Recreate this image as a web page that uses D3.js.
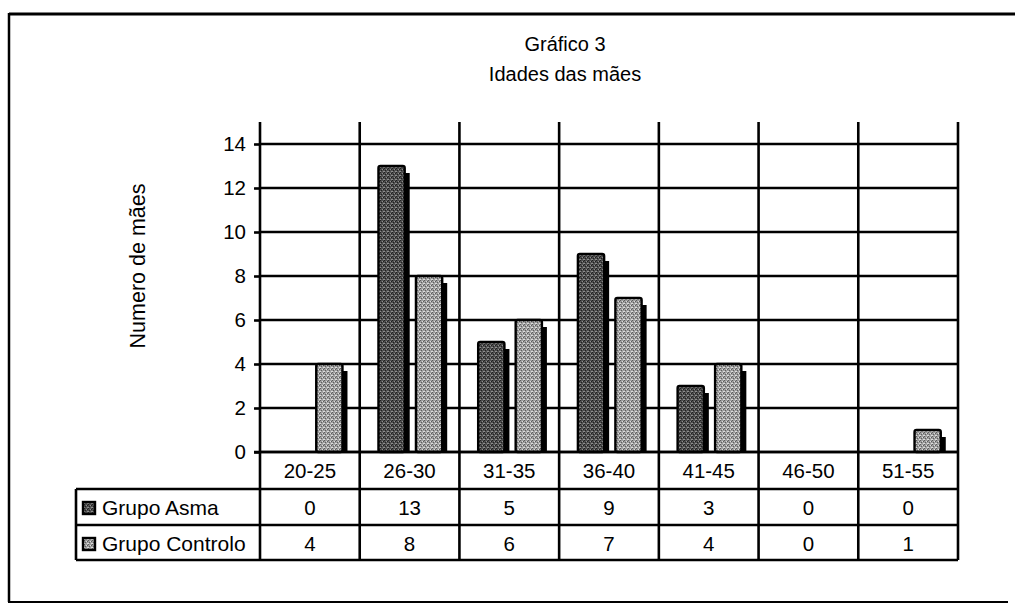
<!DOCTYPE html>
<html>
<head>
<meta charset="utf-8">
<script src="https://cdn.jsdelivr.net/npm/d3@7"></script>
<style>
  html, body { margin: 0; padding: 0; background: #fff; }
  svg text { font-family: "Liberation Sans", Arial, sans-serif; fill: #000; }
</style>
</head>
<body>
<svg id="chart" width="1015" height="607"></svg>
<script>
// ---- data ----
const categories = ["20-25", "26-30", "31-35", "36-40", "41-45", "46-50", "51-55"];
const seriesNames = ["Grupo Asma", "Grupo Controlo"];
const asmaValues = [0, 13, 5, 9, 3, 0, 0];
const controloValues = [4, 8, 6, 7, 4, 0, 1];
const yTicks = [0, 2, 4, 6, 8, 10, 12, 14];
const titleLines = ["Gráfico 3", "Idades das mães"];
const yLabel = "Numero de mães";

const seriesValues = [asmaValues, controloValues];

const svg = d3.select("#chart");
const W = 1015, H = 607;

// patterns (stipple texture)
const defs = svg.append("defs");
function stipple(id, base, dark, light) {
  const p = defs.append("pattern").attr("id", id).attr("patternUnits", "userSpaceOnUse")
    .attr("width", 4).attr("height", 4);
  p.append("rect").attr("width", 4).attr("height", 4).attr("fill", base);
  [[0,0,dark],[2,1,light],[1,2,dark],[3,3,light],[3,1,dark],[0,3,light]].forEach(d => {
    p.append("rect").attr("x", d[0]).attr("y", d[1]).attr("width", 1).attr("height", 1).attr("fill", d[2]);
  });
}
stipple("pAsma", "#4e4e4e", "#202020", "#8e8e8e");
stipple("pCtrl", "#9e9e9e", "#5e5e5e", "#dcdcdc");
const fills = ["url(#pAsma)", "url(#pCtrl)"];

// layout
const plotLeft = 260, plotRight = 958, plotTop = 122, plotBottom = 452;
const rowH = 36;
const tableLeft = 76;
const catRowBottom = plotBottom + 37;
const row1Bottom = catRowBottom + rowH;
const row2Bottom = row1Bottom + rowH - 1;

const x = d3.scaleBand().domain(categories).range([plotLeft, plotRight]).padding(0);
const bw = x.bandwidth();
const xSub = d3.scaleBand().domain(seriesNames).range([bw * 0.188, bw * 0.94]).padding(0);
const barW = xSub.bandwidth() * 0.7;
const y = d3.scaleLinear().domain([0, 15]).range([plotBottom, plotTop]);

const lw = 2.6;

// outer frame
svg.append("line").attr("x1", 9).attr("x2", W).attr("y1", 14).attr("y2", 14).attr("stroke", "#000").attr("stroke-width", 3);
svg.append("line").attr("x1", 9).attr("x2", 9).attr("y1", 13).attr("y2", 602).attr("stroke", "#000").attr("stroke-width", 2.5);
svg.append("line").attr("x1", 8).attr("x2", 1008).attr("y1", 602).attr("y2", 602).attr("stroke", "#000").attr("stroke-width", 2);

// title
svg.append("g").selectAll("text").data(titleLines).join("text")
  .attr("x", 565).attr("y", (d, i) => 51 + i * 30)
  .attr("text-anchor", "middle").attr("font-size", 20).text(d => d);

// y axis label
svg.append("text").attr("transform", `translate(145,${(plotTop + plotBottom) / 2 - 21}) rotate(-90)`)
  .attr("text-anchor", "middle").attr("font-size", 21.5).text(yLabel);

// horizontal gridlines + ticks
const yAxis = d3.axisLeft(y).tickValues(yTicks).tickSize(6).tickPadding(8).tickFormat(d3.format("d"));
const yg = svg.append("g").attr("transform", `translate(${plotLeft},0)`).call(yAxis);
yg.select(".domain").remove();
yg.selectAll(".tick line").attr("stroke", "#000").attr("stroke-width", lw);
yg.selectAll(".tick text").attr("font-size", 20.5).attr("font-family", "Liberation Sans, Arial, sans-serif").attr("fill", "#000");

svg.append("g").selectAll("line").data(yTicks).join("line")
  .attr("x1", plotLeft).attr("x2", plotRight)
  .attr("y1", d => y(d)).attr("y2", d => y(d))
  .attr("stroke", "#000").attr("stroke-width", lw);

// bars
const bars = svg.append("g");
seriesNames.forEach((s, si) => {
  const vals = seriesValues[si];
  const g = bars.append("g");
  const data = categories.map((c, i) => ({ c, v: vals[i] })).filter(d => d.v > 0);
  // shadow
  g.selectAll("rect.sh").data(data).join("rect").attr("class", "sh")
    .attr("x", d => x(d.c) + xSub(s) + 5)
    .attr("y", d => y(d.v) + 7)
    .attr("width", barW)
    .attr("height", d => plotBottom - y(d.v) - 7)
    .attr("fill", "#000");
  g.selectAll("rect.b").data(data).join("rect").attr("class", "b")
    .attr("x", d => x(d.c) + xSub(s))
    .attr("y", d => y(d.v))
    .attr("width", barW)
    .attr("height", d => plotBottom - y(d.v))
    .attr("rx", 2)
    .attr("fill", fills[si]).attr("stroke", "#000").attr("stroke-width", 2.4);
});

// redraw baseline over bars
svg.append("line").attr("x1", plotLeft - 6).attr("x2", plotRight).attr("y1", y(0)).attr("y2", y(0))
  .attr("stroke", "#000").attr("stroke-width", lw);

// vertical lines at band boundaries
const bounds = categories.map(c => x(c)).concat([plotRight]);
svg.append("g").selectAll("line").data(bounds).join("line")
  .attr("x1", d => d).attr("x2", d => d)
  .attr("y1", plotTop).attr("y2", row2Bottom)
  .attr("stroke", "#000").attr("stroke-width", lw);

// table horizontal lines
svg.append("g").selectAll("line").data([catRowBottom, row1Bottom, row2Bottom]).join("line")
  .attr("x1", tableLeft).attr("x2", plotRight)
  .attr("y1", d => d).attr("y2", d => d)
  .attr("stroke", "#000").attr("stroke-width", lw);
svg.append("line").attr("x1", tableLeft).attr("x2", tableLeft)
  .attr("y1", catRowBottom).attr("y2", row2Bottom).attr("stroke", "#000").attr("stroke-width", lw);

// category labels
svg.append("g").selectAll("text").data(categories).join("text")
  .attr("x", d => x(d) + bw / 2).attr("y", plotBottom + 26)
  .attr("text-anchor", "middle").attr("font-size", 20.5).text(d => d);

// table rows
seriesNames.forEach((s, si) => {
  const rowTop = catRowBottom + si * rowH;
  const base = rowTop + 26;
  svg.append("g").selectAll("text").data(categories).join("text")
    .attr("x", d => x(d) + bw / 2).attr("y", base)
    .attr("text-anchor", "middle").attr("font-size", 20.5)
    .text((d, i) => seriesValues[si][i]);
  svg.append("rect").attr("x", 83).attr("y", rowTop + 13).attr("width", 12).attr("height", 12)
    .attr("fill", fills[si]).attr("stroke", "#000").attr("stroke-width", 2.4);
  svg.append("text").attr("x", 102).attr("y", base).attr("font-size", 21).text(s);
});
</script>
</body>
</html>
